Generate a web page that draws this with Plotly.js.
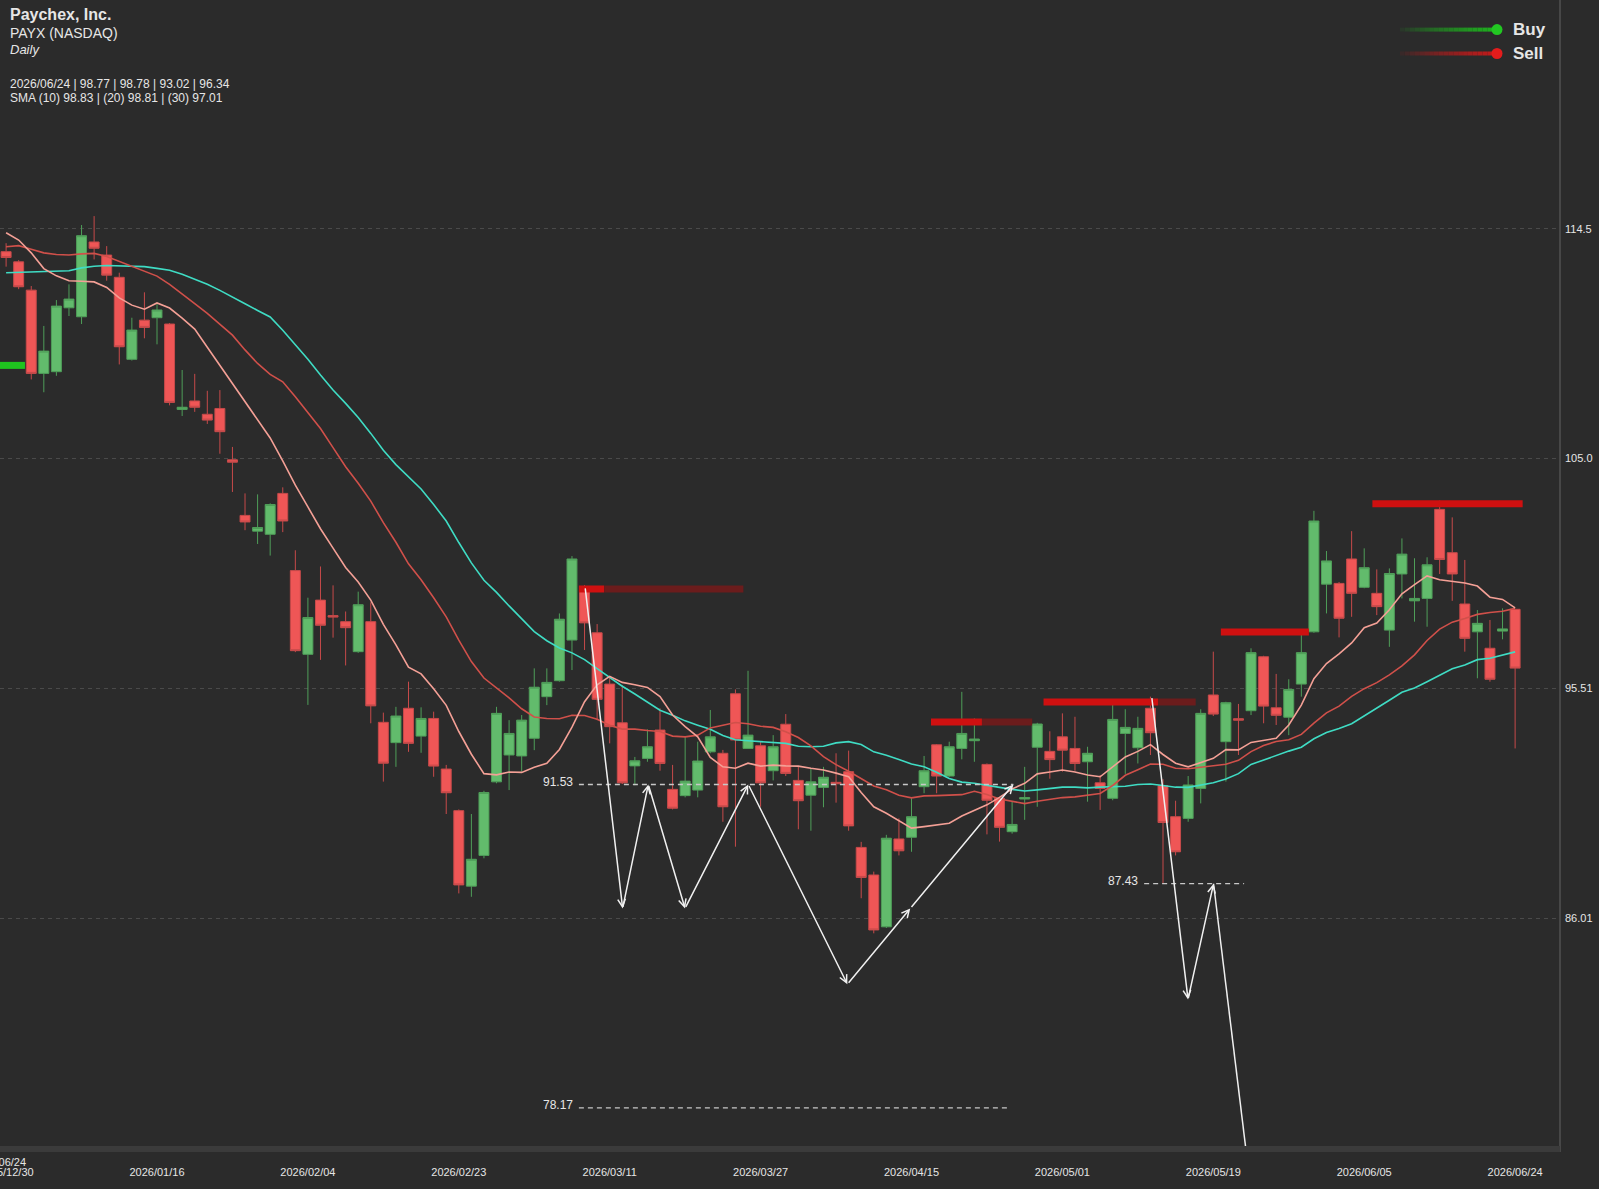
<!DOCTYPE html>
<html><head><meta charset="utf-8">
<script src="https://cdn.plot.ly/plotly-3.0.1.min.js"></script>
<style>html,body{margin:0;padding:0;background:#2b2b2b;}#chart{width:1599px;height:1189px;}</style>
</head><body><div id="chart"></div>
<script>
// ---------------- DATA ----------------
const dates = ["2025/12/30","2025/12/31","2026/01/02","2026/01/05","2026/01/06","2026/01/07","2026/01/08","2026/01/09","2026/01/12","2026/01/13",
"2026/01/14","2026/01/15","2026/01/16","2026/01/20","2026/01/21","2026/01/22","2026/01/23","2026/01/26","2026/01/27","2026/01/28",
"2026/01/29","2026/01/30","2026/02/02","2026/02/03","2026/02/04","2026/02/05","2026/02/06","2026/02/09","2026/02/10","2026/02/11",
"2026/02/12","2026/02/13","2026/02/17","2026/02/18","2026/02/19","2026/02/20","2026/02/23","2026/02/24","2026/02/25","2026/02/26",
"2026/02/27","2026/03/02","2026/03/03","2026/03/04","2026/03/05","2026/03/06","2026/03/09","2026/03/10","2026/03/11","2026/03/12",
"2026/03/13","2026/03/16","2026/03/17","2026/03/18","2026/03/19","2026/03/20","2026/03/23","2026/03/24","2026/03/25","2026/03/26",
"2026/03/27","2026/03/30","2026/03/31","2026/04/01","2026/04/02","2026/04/06","2026/04/07","2026/04/08","2026/04/09","2026/04/10",
"2026/04/13","2026/04/14","2026/04/15","2026/04/16","2026/04/17","2026/04/20","2026/04/21","2026/04/22","2026/04/23","2026/04/24",
"2026/04/27","2026/04/28","2026/04/29","2026/04/30","2026/05/01","2026/05/04","2026/05/05","2026/05/06","2026/05/07","2026/05/08",
"2026/05/11","2026/05/12","2026/05/13","2026/05/14","2026/05/15","2026/05/18","2026/05/19","2026/05/20","2026/05/21","2026/05/22",
"2026/05/26","2026/05/27","2026/05/28","2026/05/29","2026/06/01","2026/06/02","2026/06/03","2026/06/04","2026/06/05","2026/06/08",
"2026/06/09","2026/06/10","2026/06/11","2026/06/12","2026/06/15","2026/06/16","2026/06/17","2026/06/18","2026/06/22","2026/06/23",
"2026/06/24"];

const openP = [113.55,113.13,111.96,108.52,108.59,111.23,110.86,113.95,113.41,112.49,
109.1,110.72,110.82,110.56,107.03,107.38,106.83,107.07,104.95,102.65,
102.0,101.87,103.56,100.37,96.91,99.15,98.51,98.26,97.02,98.26,
94.1,93.26,94.68,93.53,94.26,92.17,90.45,87.33,88.6,91.64,
92.75,92.71,93.44,95.16,95.82,97.5,99.7,97.8,95.68,94.08,
92.3,92.61,93.78,91.33,91.07,91.3,92.88,92.82,95.28,93.02,
93.13,92.1,94.02,91.7,91.09,91.41,91.62,92.06,88.93,87.79,
85.65,89.28,89.35,91.44,93.17,91.88,93.02,93.34,92.36,90.96,
89.58,90.93,93.07,92.9,93.5,93.02,92.47,91.6,90.96,93.64,
93.05,94.68,91.48,90.2,90.13,91.37,95.23,93.3,94.25,94.58,
96.81,94.7,94.31,95.68,97.84,99.81,99.84,100.85,99.68,99.43,
97.91,100.23,99.12,99.22,102.9,101.11,98.99,97.84,97.16,97.87,
98.77];

const highP = [113.9,113.2,112.13,110.48,111.55,112.2,114.65,115.02,113.78,112.68,
110.82,111.87,111.38,110.6,108.66,108.5,107.8,107.83,105.48,103.56,
103.52,103.15,103.81,101.21,99.25,100.54,99.76,98.68,99.5,99.06,
94.5,94.74,95.78,94.72,94.54,92.34,90.5,90.31,91.27,94.74,
94.19,94.4,96.33,96.33,98.6,100.97,99.77,98.16,95.98,95.64,
92.67,93.81,94.68,92.34,93.5,93.3,94.61,92.96,95.46,96.23,
93.3,93.57,94.44,92.26,92.2,92.26,92.82,92.93,89.16,87.93,
89.45,90.13,90.96,92.71,93.2,93.3,95.36,94.26,92.4,91.02,
90.85,92.26,94.08,93.73,94.47,94.33,93.09,91.92,95.02,94.64,
94.33,95.16,91.75,90.86,91.88,94.64,97.02,94.95,94.86,97.16,
96.85,96.1,95.88,97.71,102.84,101.18,99.9,102.0,101.29,100.42,
100.46,101.7,100.88,100.92,103.26,102.57,100.81,98.74,98.33,98.81,
98.78];

const lowP = [112.93,112.0,108.27,107.74,108.42,110.89,110.56,113.23,112.35,108.89,
109.05,109.97,109.72,107.2,106.76,106.93,106.43,105.2,103.62,102.04,
101.47,100.99,101.96,97.0,94.82,96.68,97.6,96.45,96.97,94.06,
91.65,92.26,92.88,92.84,91.85,90.31,87.03,86.89,88.48,91.58,
91.3,92.06,92.95,94.81,95.78,96.26,97.09,94.19,93.23,91.55,
91.5,92.47,92.1,90.5,91.0,91.0,92.82,89.99,88.96,93.0,
90.61,91.7,91.88,89.68,89.62,90.59,90.78,89.62,86.83,85.38,
85.6,88.6,88.75,91.17,91.17,91.85,92.57,92.47,89.47,89.17,
89.5,90.07,90.61,91.77,92.06,92.1,90.82,90.48,90.88,91.97,
92.4,92.75,87.43,88.6,89.99,90.75,94.36,91.65,92.75,94.4,
94.06,93.99,93.57,95.16,97.8,98.6,97.61,98.46,99.64,98.53,
97.22,99.22,98.26,98.05,100.23,99.12,97.02,95.92,95.78,97.53,
93.02];

const closeP = [113.31,112.1,108.52,109.44,111.3,111.59,114.21,113.69,112.58,109.62,
110.31,110.42,111.14,107.32,107.12,107.12,106.59,106.11,104.85,102.38,
102.15,103.1,102.42,97.06,98.43,98.11,98.45,98.01,98.96,94.78,
92.41,94.36,93.23,94.26,92.29,91.19,87.38,88.44,91.2,94.47,
93.64,94.19,95.55,95.75,98.36,100.85,98.21,95.05,93.92,91.6,
92.51,93.09,92.4,90.55,91.67,92.5,93.5,90.61,93.37,93.57,
91.6,93.09,91.99,90.86,91.64,91.83,91.56,89.82,87.69,85.52,
89.31,88.79,90.2,92.1,91.88,93.09,93.64,93.41,90.88,89.76,
89.88,90.99,94.03,92.56,92.95,92.4,92.82,91.37,94.22,93.89,
93.85,93.67,89.96,88.75,91.51,94.47,94.44,94.91,94.19,96.98,
94.77,94.39,95.46,96.98,102.42,100.77,98.4,99.43,100.49,98.88,
100.25,101.05,99.22,100.61,100.83,100.23,97.57,98.19,95.88,97.96,
96.34];

const sma10 = [114.33,114.03,113.5,112.85,112.55,112.35,112.33,112.3,112.07,111.64,
111.34,111.17,111.43,111.22,110.8,110.35,109.6,108.85,108.1,107.4,
106.6,105.85,104.9,103.9,103.0,102.1,101.3,100.5,99.9,99.15,
98.15,97.3,96.38,96.1,95.49,94.8,93.72,92.78,91.98,91.93,
92.05,92.03,92.24,92.41,92.98,93.9,94.95,95.65,96.0,95.75,
95.65,95.54,95.16,94.4,93.92,93.5,92.65,92.26,92.2,92.41,
92.29,92.33,92.3,92.29,92.2,92.13,92.0,91.85,91.2,90.61,
90.34,90.05,89.73,89.79,89.85,89.93,90.23,90.45,90.69,91.0,
91.35,91.58,91.97,92.05,92.13,92.05,91.92,91.85,92.25,92.67,
92.9,93.18,92.77,92.41,92.26,92.45,92.61,92.97,92.96,93.27,
93.37,93.44,93.99,94.81,95.9,96.53,96.93,97.38,98.01,98.2,
98.75,99.41,99.79,100.15,99.99,99.94,99.86,99.73,99.27,99.18,
98.83];

const sma20 = [113.75,113.8,113.65,113.5,113.43,113.41,113.46,113.48,113.35,113.15,
112.95,112.75,112.54,112.2,111.78,111.4,111.0,110.55,110.1,109.49,
108.93,108.48,108.17,107.55,106.91,106.24,105.45,104.66,103.98,103.24,
102.35,101.54,100.65,99.99,99.25,98.46,97.5,96.61,95.93,95.53,
95.11,94.66,94.32,94.26,94.25,94.39,94.38,94.23,93.98,93.82,
93.82,93.76,93.72,93.53,93.5,93.57,93.87,93.98,94.09,94.04,
93.94,93.89,93.71,93.47,93.13,92.68,92.35,92.08,91.77,91.47,
91.31,91.09,90.98,91.06,91.07,91.1,91.11,91.25,91.12,90.93,
90.85,90.74,90.84,90.93,90.99,91.02,91.09,91.16,91.49,91.91,
92.14,92.38,92.37,92.2,92.18,92.25,92.29,92.37,92.53,92.89,
93.14,93.31,93.38,93.6,94.07,94.49,94.77,95.17,95.49,95.74,
96.06,96.43,96.89,97.48,97.95,98.24,98.39,98.56,98.64,98.69,
98.81];

const sma30 = [112.68,112.7,112.72,112.73,112.74,112.76,112.88,112.95,112.98,112.97,
112.95,112.93,112.86,112.78,112.62,112.42,112.2,111.95,111.69,111.4,
111.12,110.85,110.3,109.7,109.1,108.45,107.83,107.28,106.7,106.04,
105.34,104.75,104.24,103.74,103.1,102.42,101.53,100.69,99.97,99.47,
98.91,98.37,97.85,97.47,97.17,96.97,96.69,96.32,95.95,95.59,
95.27,94.94,94.6,94.39,94.16,93.98,93.81,93.56,93.38,93.34,
93.31,93.27,93.23,93.11,93.09,93.11,93.25,93.3,93.18,92.88,
92.74,92.56,92.38,92.26,92.04,91.78,91.63,91.58,91.48,91.41,
91.33,91.26,91.31,91.38,91.42,91.42,91.39,91.42,91.45,91.46,
91.53,91.55,91.49,91.42,91.41,91.5,91.6,91.76,91.98,92.36,
92.55,92.73,92.91,93.07,93.42,93.68,93.84,94.04,94.36,94.66,
95.01,95.34,95.52,95.78,96.05,96.31,96.47,96.69,96.75,96.88,
97.01];

const yTickVals = [86.01, 95.505, 105.0, 114.495];
const yTickText = ["86.01", "95.51", "105.0", "114.5"];
const xTickStep = 12;

// support / target levels (price, first bar, last bar)
const levelPrice = [91.53, 87.43, 78.17];
const levelFrom  = [45.55, 90.5, 45.55];
const levelTo    = [80.1, 98.45, 79.6];

// sell signal bars (price, start bar, end of bright part, end bar)
const sellPrice     = [99.61, 94.11, 94.94, 97.83, 103.13];
const sellFrom      = [45.55, 73.55, 82.5, 96.6, 108.65];
const sellBrightTo  = [47.55, 77.6, 91.6, 103.6, 120.6];
const sellTo        = [58.63, 81.6, 94.6, 103.6, 120.6];
// buy signal bar
const buyPrice = [108.85];
const buyFrom  = [-0.5];
const buyTo    = [1.5];

// projection zig-zag paths (bar index, price)
const path1Bar   = [46.04, 49.03, 51.07, 53.99, 59.02, 66.9, 71.9, 80.1];
const path1Price = [99.7, 86.41, 91.53, 86.41, 91.53, 83.28, 86.41, 91.53];
const path2Bar   = [91.1, 93.99, 96.02, 99.4];
const path2Price = [95.16, 82.65, 87.43, 73.0];

// ---------------- LAYOUT HELPERS ----------------
const W = 1599, H = 1189;
const M = {l: 0, r: 39, t: 0, b: 42};
const PW = W - M.l - M.r, PH = H - M.t - M.b;
const px = v => (v - M.l) / PW;
const py = v => 1 - (v - M.t) / PH;
const idx = dates.map((d, i) => i);
const FONT = '"Liberation Sans", Arial, Helvetica, sans-serif';
const TXT = '#e6e6e6';

const traces = [];
traces.push({
  type: 'candlestick', x: idx, open: openP, high: highP, low: lowP, close: closeP,
  increasing: {line: {color: '#4f9e59', width: 1}, fillcolor: '#62bb6c'},
  decreasing: {line: {color: '#c64a4a', width: 1}, fillcolor: '#ef5656'},
  whiskerwidth: 0, hoverinfo: 'skip', showlegend: false
});
traces.push({type: 'scatter', mode: 'lines', x: idx, y: sma30, line: {color: '#3fdcc4', width: 1.6}, hoverinfo: 'skip', showlegend: false});
traces.push({type: 'scatter', mode: 'lines', x: idx, y: sma20, line: {color: '#d0504a', width: 1.6}, hoverinfo: 'skip', showlegend: false});
traces.push({type: 'scatter', mode: 'lines', x: idx, y: sma10, line: {color: '#f4a096', width: 1.6}, hoverinfo: 'skip', showlegend: false});

const shapes = [];
const annotations = [];

// buy bar
buyPrice.forEach((p, i) => shapes.push({type: 'line', xref: 'x', yref: 'y', x0: buyFrom[i], x1: buyTo[i], y0: p, y1: p, line: {color: '#1fc41f', width: 7}, layer: 'above'}));
// sell bars
sellPrice.forEach((p, i) => {
  if (sellTo[i] > sellBrightTo[i]) shapes.push({type: 'line', xref: 'x', yref: 'y', x0: sellBrightTo[i], x1: sellTo[i], y0: p, y1: p, line: {color: '#6b1c1c', width: 7}, layer: 'above'});
  shapes.push({type: 'line', xref: 'x', yref: 'y', x0: sellFrom[i], x1: sellBrightTo[i], y0: p, y1: p, line: {color: '#cf1010', width: 7}, layer: 'above'});
});
// levels
levelPrice.forEach((p, i) => {
  shapes.push({type: 'line', xref: 'x', yref: 'y', x0: levelFrom[i], x1: levelTo[i], y0: p, y1: p, line: {color: '#c8c8c8', width: 1.3, dash: '5px,4px'}, layer: 'above'});
  annotations.push({xref: 'x', yref: 'y', x: levelFrom[i], y: p, text: p.toFixed(2), showarrow: false, xanchor: 'right', yanchor: 'middle', xshift: -4, yshift: 3, font: {family: FONT, size: 12, color: TXT}});
});
// zig-zag arrows
function addPath(bx, pr, lastOffscreen) {
  for (let k = 1; k < bx.length; k++) {
    if (lastOffscreen && k === bx.length - 1) {
      traces.push({type: 'scatter', mode: 'lines', x: [bx[k-1], bx[k]], y: [pr[k-1], pr[k]], line: {color: '#f0f0f0', width: 1.5}, hoverinfo: 'skip', showlegend: false, cliponaxis: true});
    } else {
      annotations.push({xref: 'x', yref: 'y', axref: 'x', ayref: 'y', x: bx[k], y: pr[k], ax: bx[k-1], ay: pr[k-1], text: '', showarrow: true, arrowhead: 5, arrowsize: 1, arrowwidth: 1.5, arrowcolor: '#f0f0f0'});
    }
  }
}
addPath(path1Bar, path1Price, false);
addPath(path2Bar, path2Price, true);

// right border and bottom strip
shapes.push({type: 'line', xref: 'paper', yref: 'paper', x0: 1, x1: 1, y0: py(1152), y1: 1, line: {color: '#474747', width: 2}, layer: 'above'});
shapes.push({type: 'rect', xref: 'paper', yref: 'paper', x0: 0, x1: 1, y0: py(1152), y1: py(1146), fillcolor: '#3b3b3b', line: {width: 0}, layer: 'above'});

// legend (Buy / Sell)
function legendItem(yPx, rgb, dot, label) {
  const x0 = 1400, x1 = 1497, n = 20, step = (x1 - x0) / n;
  for (let k = 0; k < n; k++) {
    const a = Math.pow((k + 1) / n, 0.8);
    shapes.push({type: 'line', xref: 'paper', yref: 'paper', x0: px(x0 + k * step), x1: px(x0 + (k + 1) * step), y0: py(yPx), y1: py(yPx), line: {color: `rgba(${rgb},${a.toFixed(3)})`, width: 4}, layer: 'above'});
  }
  const r = 5.5;
  shapes.push({type: 'circle', xref: 'paper', yref: 'paper', x0: px(x1 - r), x1: px(x1 + r), y0: py(yPx + r), y1: py(yPx - r), fillcolor: dot, line: {width: 0}, layer: 'above'});
  annotations.push({xref: 'paper', yref: 'paper', x: px(1511), y: py(yPx), text: '<b>' + label + '</b>', showarrow: false, xanchor: 'left', yanchor: 'middle', font: {family: FONT, size: 17, color: TXT}});
}
legendItem(29.6, '30,178,30', '#22c722', 'Buy');
legendItem(53.5, '196,26,26', '#e41c1c', 'Sell');

// header text
const last = dates.length - 1;
const header = [
  {t: '<b>Paychex, Inc.</b>', y: 14.5, s: 16},
  {t: 'PAYX (NASDAQ)', y: 32.5, s: 14},
  {t: '<i>Daily</i>', y: 49, s: 13},
  {t: `${dates[last]} | ${openP[last].toFixed(2)} | ${highP[last].toFixed(2)} | ${lowP[last].toFixed(2)} | ${closeP[last].toFixed(2)}`, y: 84, s: 12},
  {t: `SMA (10) ${sma10[last].toFixed(2)} | (20) ${sma20[last].toFixed(2)} | (30) ${sma30[last].toFixed(2)}`, y: 98.5, s: 12}
];
header.forEach(h => annotations.push({xref: 'paper', yref: 'paper', x: px(8), y: py(h.y), text: h.t, showarrow: false, xanchor: 'left', yanchor: 'middle', font: {family: FONT, size: h.s, color: TXT}}));
// overlapped date label at the far left
annotations.push({xref: 'paper', yref: 'paper', x: px(28), y: py(1162), text: dates[last], showarrow: false, xanchor: 'right', yanchor: 'middle', font: {family: FONT, size: 11, color: TXT}});

const xTickVals = idx.filter(i => i % xTickStep === 0);
const xTickText = xTickVals.map(i => dates[i]);

const layout = {
  width: W, height: H, margin: M,
  paper_bgcolor: '#2b2b2b', plot_bgcolor: '#2b2b2b',
  showlegend: false, boxgap: 0.12, boxgroupgap: 0.1,
  font: {family: FONT, color: TXT},
  xaxis: {type: 'linear', range: [-0.485, 123.57], showgrid: false, zeroline: false, showline: false,
    tickmode: 'array', tickvals: xTickVals, ticktext: xTickText, ticks: '', ticklabelstandoff: 17,
    ticklabeloverflow: 'allow', tickfont: {family: FONT, size: 11, color: TXT}, rangeslider: {visible: false}, fixedrange: true},
  yaxis: {side: 'right', range: [76.55, 123.95], showgrid: true, gridcolor: '#4a4a4a', gridwidth: 1, griddash: '4px,4px',
    zeroline: false, showline: false, tickmode: 'array', tickvals: yTickVals, ticktext: yTickText, ticks: '',
    ticklabelstandoff: 4, tickfont: {family: FONT, size: 11, color: TXT}, fixedrange: true},
  shapes: shapes, annotations: annotations
};

Plotly.newPlot('chart', traces, layout, {displayModeBar: false, staticPlot: true});
</script></body></html>
